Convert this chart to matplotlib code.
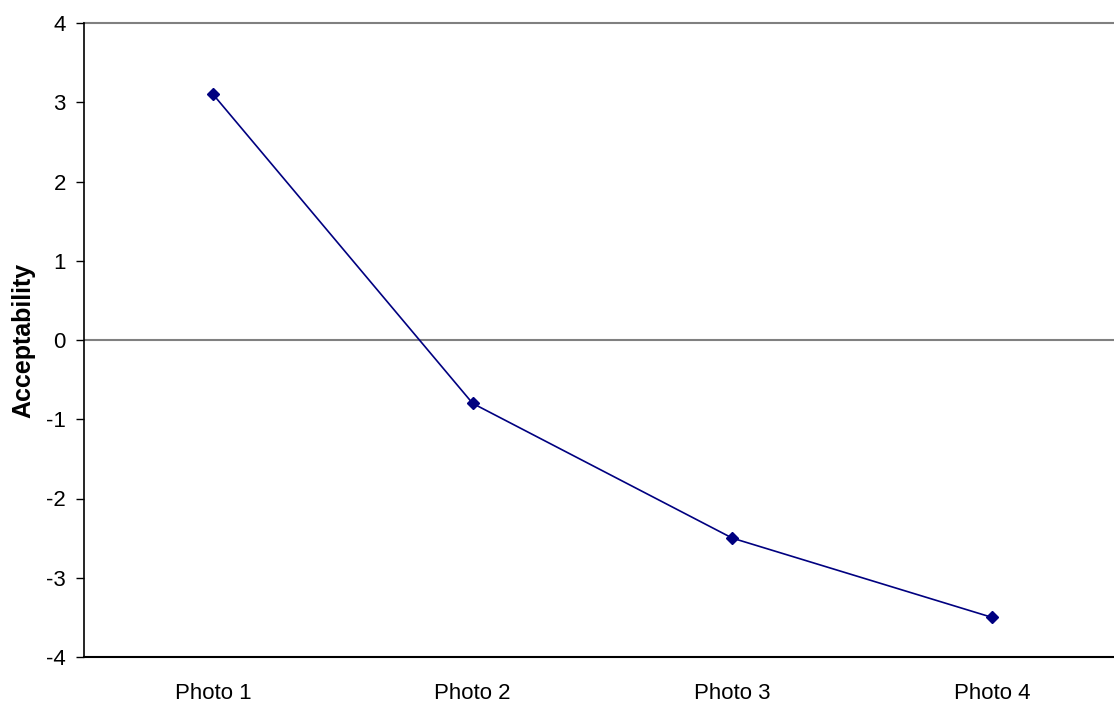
import matplotlib
matplotlib.use("Agg")
import matplotlib.pyplot as plt

photos = ["Photo 1", "Photo 2", "Photo 3", "Photo 4"]
acceptability = [3.1, -0.8, -2.5, -3.5]
yticks = [-4, -3, -2, -1, 0, 1, 2, 3, 4]

plt.rcParams['font.family'] = ['Liberation Sans', 'DejaVu Sans']

fig = plt.figure(figsize=(11.14, 7.07), dpi=100)
ax = fig.add_axes([84/1114, 50/707, 1 - 84/1114, 634/707])

x = list(range(len(photos)))
ax.axhline(0, color='#808080', lw=1.5, zorder=1)
ax.axhline(4, color='#808080', lw=1.5, zorder=1, clip_on=False)
ax.plot(x, acceptability, color='#000080', lw=1.2, marker='D', markersize=6.5, zorder=3)

ax.set_xlim(-0.497, 3.47)
ax.set_ylim(-4, 4)
ax.set_yticks(yticks)
ax.set_yticklabels([str(t) for t in yticks])
ax.set_xticks(x)
ax.set_xticklabels(photos)

for s in ['top', 'right']:
    ax.spines[s].set_visible(False)
ax.spines['left'].set_linewidth(1.2)
ax.spines['bottom'].set_linewidth(1.5)

ax.tick_params(axis='y', direction='out', length=6, width=1, pad=7, labelsize=16)
ax.tick_params(axis='x', length=0, pad=19, labelsize=16)

ax.set_ylabel("Acceptability", fontsize=18, fontweight='bold', labelpad=8)

fig.savefig("out.png", dpi=100)
